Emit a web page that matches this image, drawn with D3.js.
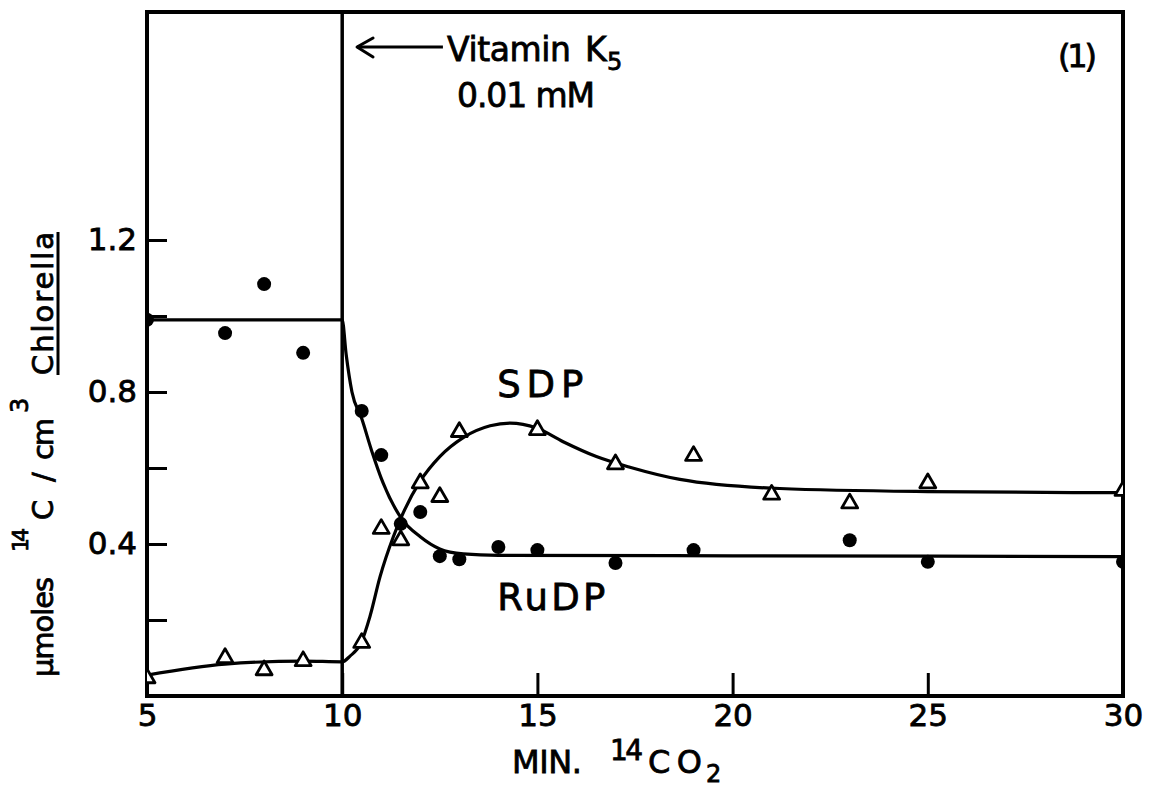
<!DOCTYPE html>
<html>
<head>
<meta charset="utf-8">
<script src="https://cdn.jsdelivr.net/npm/d3@7"></script>
<style>
  body { margin: 0; background: #fff; }
  svg { display: block; }
  text { font-family: "DejaVu Sans", sans-serif; fill: #000; stroke: #000; stroke-width: 0.8px; }
</style>
</head>
<body>
<svg id="chart" width="1151" height="787"></svg>
<script>
// RuDP (filled circles)
const rudpX = [5, 7, 8, 9, 10.5, 11, 11.5, 12, 12.5, 13, 14, 15, 17, 19, 23, 25, 30];
const rudpY = [0.99, 0.955, 1.084, 0.903, 0.75, 0.634, 0.453, 0.484, 0.368, 0.36, 0.392, 0.384, 0.35, 0.384, 0.41, 0.353, 0.353];

// SDP (open triangles)
const sdpX = [5, 7, 8, 9, 10.5, 11, 11.5, 12, 12.5, 13, 15, 17, 19, 21, 23, 25, 30];
const sdpY = [0.047, 0.1, 0.068, 0.092, 0.14, 0.44, 0.41, 0.56, 0.524, 0.695, 0.70, 0.61, 0.632, 0.53, 0.507, 0.56, 0.54];

// hand-drawn fitted curves
const rudpCurveX = [5, 10, 10.1, 10.25, 10.5, 10.75, 11.05, 11.52, 12, 12.5, 13.1, 14, 20, 30];
const rudpCurveY = [0.99, 0.99, 0.9, 0.8, 0.73, 0.647, 0.56, 0.467, 0.419, 0.387, 0.374, 0.37, 0.369, 0.367];

const sdpCurveX = [5, 7, 9, 10, 10.2, 10.48, 10.71, 10.97, 11.31, 11.52, 11.99, 12.5, 13.1, 13.79, 14.3, 14.98, 15.66, 16.51, 17.37, 18.65, 21.21, 25, 30];
const sdpCurveY = [0.055, 0.084, 0.092, 0.09, 0.105, 0.139, 0.209, 0.314, 0.419, 0.472, 0.564, 0.63, 0.68, 0.711, 0.718, 0.705, 0.669, 0.63, 0.602, 0.57, 0.546, 0.538, 0.535];

const xTicks = [5, 10, 15, 20, 25, 30];
const yTicks = [0.2, 0.4, 0.6, 0.8, 1.0, 1.2];
const yTickLabels = ["", "0.4", "", "0.8", "", "1.2"];

const svg = d3.select("#chart");
const plot = { left: 147, right: 1123, top: 12, bottom: 696 };

const x = d3.scaleLinear().domain([5, 30]).range([plot.left, plot.right]);
const y = d3.scaleLinear().domain([0, 1.8]).range([plot.bottom, plot.top]);

svg.append("defs").append("clipPath").attr("id", "clip")
  .append("rect")
  .attr("x", plot.left).attr("y", plot.top)
  .attr("width", plot.right - plot.left).attr("height", plot.bottom - plot.top);

// axes (inward ticks)
const yAxis = svg.append("g")
  .attr("transform", `translate(${plot.left},0)`)
  .call(d3.axisLeft(y).tickValues(yTicks).tickSize(-20).tickPadding(10)
    .tickFormat((d, i) => yTickLabels[i]));

const xAxis = svg.append("g")
  .attr("transform", `translate(0,${plot.bottom})`)
  .call(d3.axisBottom(x).tickValues(xTicks).tickSize(-23).tickPadding(8));

[xAxis, yAxis].forEach(g => {
  g.select(".domain").remove();
  g.selectAll(".tick line").attr("stroke", "#000").attr("stroke-width", 3);
  g.selectAll(".tick text")
    .attr("font-family", "DejaVu Sans, sans-serif")
    .attr("font-size", 31)
    .attr("fill", "#000");
});

// frame and the vitamin addition line
svg.append("rect")
  .attr("x", plot.left).attr("y", plot.top)
  .attr("width", plot.right - plot.left).attr("height", plot.bottom - plot.top)
  .attr("fill", "none").attr("stroke", "#000").attr("stroke-width", 4);

svg.append("line")
  .attr("x1", x(10)).attr("x2", x(10))
  .attr("y1", plot.top).attr("y2", plot.bottom)
  .attr("stroke", "#000").attr("stroke-width", 3.5);

// curves
const line = d3.line()
  .x(d => x(d[0]))
  .y(d => y(d[1]))
  .curve(d3.curveMonotoneX);

const marks = svg.append("g").attr("clip-path", "url(#clip)");

marks.append("path")
  .datum(rudpCurveX.map((v, i) => [v, rudpCurveY[i]]))
  .attr("d", line)
  .attr("fill", "none").attr("stroke", "#000").attr("stroke-width", 3.2);

marks.append("path")
  .datum(sdpCurveX.map((v, i) => [v, sdpCurveY[i]]))
  .attr("d", line)
  .attr("fill", "none").attr("stroke", "#000").attr("stroke-width", 3.2);

// points
marks.selectAll(".rudp")
  .data(rudpX.map((v, i) => [v, rudpY[i]]))
  .enter()
  .append("circle")
  .attr("cx", d => x(d[0]))
  .attr("cy", d => y(d[1]))
  .attr("r", 7)
  .attr("fill", "#000");

const tri = d3.symbol().type(d3.symbolTriangle).size(110);
marks.selectAll(".sdp")
  .data(sdpX.map((v, i) => [v, sdpY[i]]))
  .enter()
  .append("path")
  .attr("d", tri)
  .attr("transform", d => `translate(${x(d[0])},${y(d[1])})`)
  .attr("fill", "#fff")
  .attr("stroke", "#000")
  .attr("stroke-width", 2.8)
  .attr("stroke-linejoin", "round");

// text helper
function label(g, str, px, py, size, len) {
  const t = g.append("text")
    .attr("x", px).attr("y", py)
    .attr("font-size", size)
    .text(str);
  if (len) t.attr("textLength", len).attr("lengthAdjust", "spacing");
  return t;
}

// curve labels
label(svg, "SDP", x(13.97), y(0.787), 37, 86);
label(svg, "RuDP", x(13.97), y(0.226), 37, 108);

// vitamin K5 annotation with arrow
const tipX = x(10.38), tipY = y(1.708);
svg.append("line")
  .attr("x1", tipX).attr("y1", tipY)
  .attr("x2", x(12.58)).attr("y2", tipY)
  .attr("stroke", "#000").attr("stroke-width", 3);
svg.append("path")
  .attr("d", `M${tipX + 16},${tipY - 9} L${tipX},${tipY} L${tipX + 16},${tipY + 10}`)
  .attr("fill", "none").attr("stroke", "#000").attr("stroke-width", 3)
  .attr("stroke-linejoin", "round").attr("stroke-linecap", "round");

label(svg, "Vitamin", 447, 61, 33, 124);
label(svg, "K", 585, 61, 33);
label(svg, "5", 607, 70, 24);
label(svg, "0.01 mM", 457, 107, 33, 138);
label(svg, "(1)", 1058, 67, 32, 39);

// x axis title
label(svg, "MIN.", 512, 773, 32, 70);
label(svg, "14", 610, 760, 28, 33);
label(svg, "CO", 648, 773, 32, 54);
label(svg, "2", 706, 782, 24);

// y axis title, rotated, built from pieces along the axis
const yt = svg.append("g").attr("transform", "translate(53,0)");
function vlabel(str, along, off, size, len) {
  const t = yt.append("text")
    .attr("transform", `translate(${off},${along}) rotate(-90)`)
    .attr("font-size", size)
    .text(str);
  if (len) t.attr("textLength", len).attr("lengthAdjust", "spacing");
  return t;
}
vlabel("\u03BCmoles", 677, 0, 29, 100);
vlabel("14", 552, -25, 22, 24);
vlabel("C", 520, 0, 29);
vlabel("/", 482, 0, 29);
vlabel("cm", 460, 0, 29, 42);
vlabel("3", 413, -25, 24);
vlabel("Chlorella", 375, 0, 29, 143);
yt.append("line")
  .attr("x1", 5).attr("x2", 5)
  .attr("y1", 375).attr("y2", 232)
  .attr("stroke", "#000").attr("stroke-width", 3);
</script>
</body>
</html>
